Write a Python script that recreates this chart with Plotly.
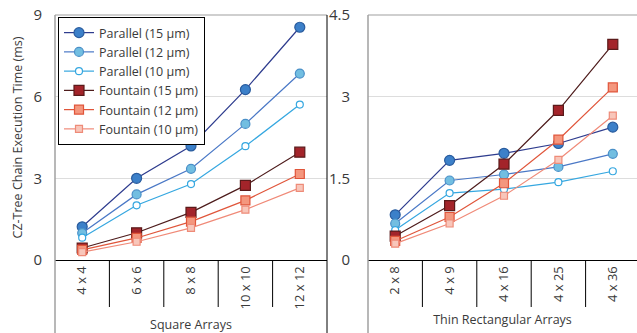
import plotly.graph_objects as go

W, H = 637, 333

square_cats = ["4 x 4", "6 x 6", "8 x 8", "10 x 10", "12 x 12"]
thin_cats = ["2 x 8", "4 x 9", "4 x 16", "4 x 25", "4 x 36"]

series_names = ["Parallel (15 µm)", "Parallel (12 µm)", "Parallel (10 µm)",
                "Fountain (15 µm)", "Fountain (12 µm)", "Fountain (10 µm)"]

square_par15 = [1.22, 3.00, 4.19, 6.26, 8.55]
square_par12 = [0.99, 2.41, 3.35, 5.00, 6.85]
square_par10 = [0.82, 2.01, 2.79, 4.18, 5.71]
square_fou15 = [0.44, 1.00, 1.75, 2.74, 3.96]
square_fou12 = [0.37, 0.81, 1.41, 2.19, 3.16]
square_fou10 = [0.29, 0.67, 1.18, 1.85, 2.65]

thin_par15 = [0.83, 1.83, 1.96, 2.14, 2.44]
thin_par12 = [0.67, 1.46, 1.57, 1.71, 1.95]
thin_par10 = [0.55, 1.23, 1.30, 1.43, 1.63]
thin_fou15 = [0.44, 1.00, 1.76, 2.75, 3.96]
thin_fou12 = [0.35, 0.79, 1.41, 2.21, 3.17]
thin_fou10 = [0.30, 0.67, 1.18, 1.84, 2.65]

left_ticks = [0, 3, 6, 9]
right_ticks = [0, 1.5, 3, 4.5]
right_tick_text = ["0", "1.5", "3", "4.5"]

styles = [
    dict(line="#2E3C8E", fill="#3C80C9", edge="#2A5C9E", symbol="circle", size=10),
    dict(line="#4A78C6", fill="#72BEE1", edge="#4A90C8", symbol="circle", size=9),
    dict(line="#35A7E0", fill="#FFFFFF", edge="#35A7E0", symbol="circle", size=7),
    dict(line="#4E1C1C", fill="#A3242A", edge="#5A1A1A", symbol="square", size=10),
    dict(line="#E0553A", fill="#F4977E", edge="#E0553A", symbol="square", size=9),
    dict(line="#F08A78", fill="#F8C6BA", edge="#EE8B78", symbol="square", size=7),
]

square_vals = [square_par15, square_par12, square_par10, square_fou15, square_fou12, square_fou10]
thin_vals = [thin_par15, thin_par12, thin_par10, thin_fou15, thin_fou12, thin_fou10]

FONT = "Open Sans"
TXT = "#3A3A3A"

fig = go.Figure()
for name, st, vals in zip(series_names, styles, square_vals):
    fig.add_trace(go.Scatter(
        x=square_cats, y=vals, name=name, mode="lines+markers",
        line=dict(color=st["line"], width=1.2),
        marker=dict(symbol=st["symbol"], size=st["size"], color=st["fill"],
                    line=dict(color=st["edge"], width=1.2)),
        xaxis="x", yaxis="y", showlegend=True))
for name, st, vals in zip(series_names, styles, thin_vals):
    fig.add_trace(go.Scatter(
        x=thin_cats, y=vals, name=name, mode="lines+markers",
        line=dict(color=st["line"], width=1.2),
        marker=dict(symbol=st["symbol"], size=st["size"], color=st["fill"],
                    line=dict(color=st["edge"], width=1.2)),
        xaxis="x2", yaxis="y2", showlegend=False))

y_bot = (H - 260) / H
y_top = (H - 15) / H
lx0, lx1 = 55 / W, 327 / W
rx0 = 368 / W
n_thin = len(thin_cats)
right_span = (W - 368) / 54.4  # categories visible in right panel

common_x = dict(type="category", showgrid=False, ticks="", tickangle=-90,
                showline=True, linecolor="#000000", linewidth=1, automargin=False,
                tickfont=dict(family=FONT, size=13, color=TXT), fixedrange=True)
common_y = dict(showgrid=True, gridcolor="#DDDDDD", gridwidth=1, zeroline=False,
                showline=False, ticks="", automargin=False,
                tickfont=dict(family=FONT, size=15, color=TXT))

fig.update_layout(
    width=W, height=H, margin=dict(l=0, r=0, t=0, b=0, autoexpand=False),
    paper_bgcolor="white", plot_bgcolor="white",
    xaxis=dict(common_x, domain=[lx0, lx1], anchor="y",
               range=[-0.5, len(square_cats) - 0.5],
               title=dict(text="Square Arrays", font=dict(family=FONT, size=12.5, color=TXT), standoff=11)),
    yaxis=dict(common_y, domain=[y_bot, y_top], anchor="x", range=[0, 9],
               tickvals=left_ticks, ticklabelstandoff=12,
               title=dict(text="CZ-Tree Chain Execution Time (ms)",
                          font=dict(family=FONT, size=12.5, color=TXT), standoff=8)),
    xaxis2=dict(common_x, domain=[rx0, 1], anchor="y2",
                range=[-0.5, -0.5 + right_span],
                title=dict(text="Thin Rectangular Arrays", font=dict(family=FONT, size=12.5, color=TXT), standoff=14)),
    yaxis2=dict(common_y, domain=[y_bot, y_top], anchor="x2", range=[0, 4.5],
                tickvals=right_ticks, ticktext=right_tick_text, ticklabelstandoff=17),
    legend=dict(x=58 / W, y=1 - 17 / H, xanchor="left", yanchor="top",
                bgcolor="white", bordercolor="#000000", borderwidth=1,
                font=dict(family=FONT, size=12.5, color=TXT), itemwidth=30,
                tracegroupgap=0),
    showlegend=True,
)

shapes = []
gray = "#A0A0A0"
shapes.append(dict(type="line", xref="paper", yref="paper", x0=lx0, x1=lx0, y0=0, y1=y_top,
                   line=dict(color=gray, width=1.5)))
shapes.append(dict(type="line", xref="paper", yref="paper", x0=lx0, x1=lx1, y0=y_top, y1=y_top,
                   line=dict(color=gray, width=1.2)))
shapes.append(dict(type="line", xref="paper", yref="paper", x0=lx1, x1=lx1, y0=0, y1=y_top,
                   line=dict(color="#000000", width=1)))
shapes.append(dict(type="line", xref="paper", yref="paper", x0=rx0, x1=rx0, y0=0, y1=y_top,
                   line=dict(color=gray, width=1.5)))
shapes.append(dict(type="line", xref="paper", yref="paper", x0=rx0, x1=1, y0=y_top, y1=y_top,
                   line=dict(color=gray, width=1.2)))
div_bot = (H - 307) / H
for i in range(len(square_cats) - 1):
    shapes.append(dict(type="line", xref="x", yref="paper", x0=i + 0.5, x1=i + 0.5,
                       y0=div_bot, y1=y_bot, line=dict(color="#000000", width=1)))
for i in range(n_thin - 1):
    shapes.append(dict(type="line", xref="x2", yref="paper", x0=i + 0.5, x1=i + 0.5,
                       y0=div_bot, y1=y_bot, line=dict(color="#000000", width=1)))
fig.update_layout(shapes=shapes)

post = ("document.body.style.margin='0';document.body.style.overflow='hidden';"
        "var d=document.getElementById('{plot_id}');"
        "d.style.position='absolute';d.style.left='0px';d.style.top='0px';")
fig.write_html("out.html", post_script=post, config={"displayModeBar": False, "staticPlot": True})
